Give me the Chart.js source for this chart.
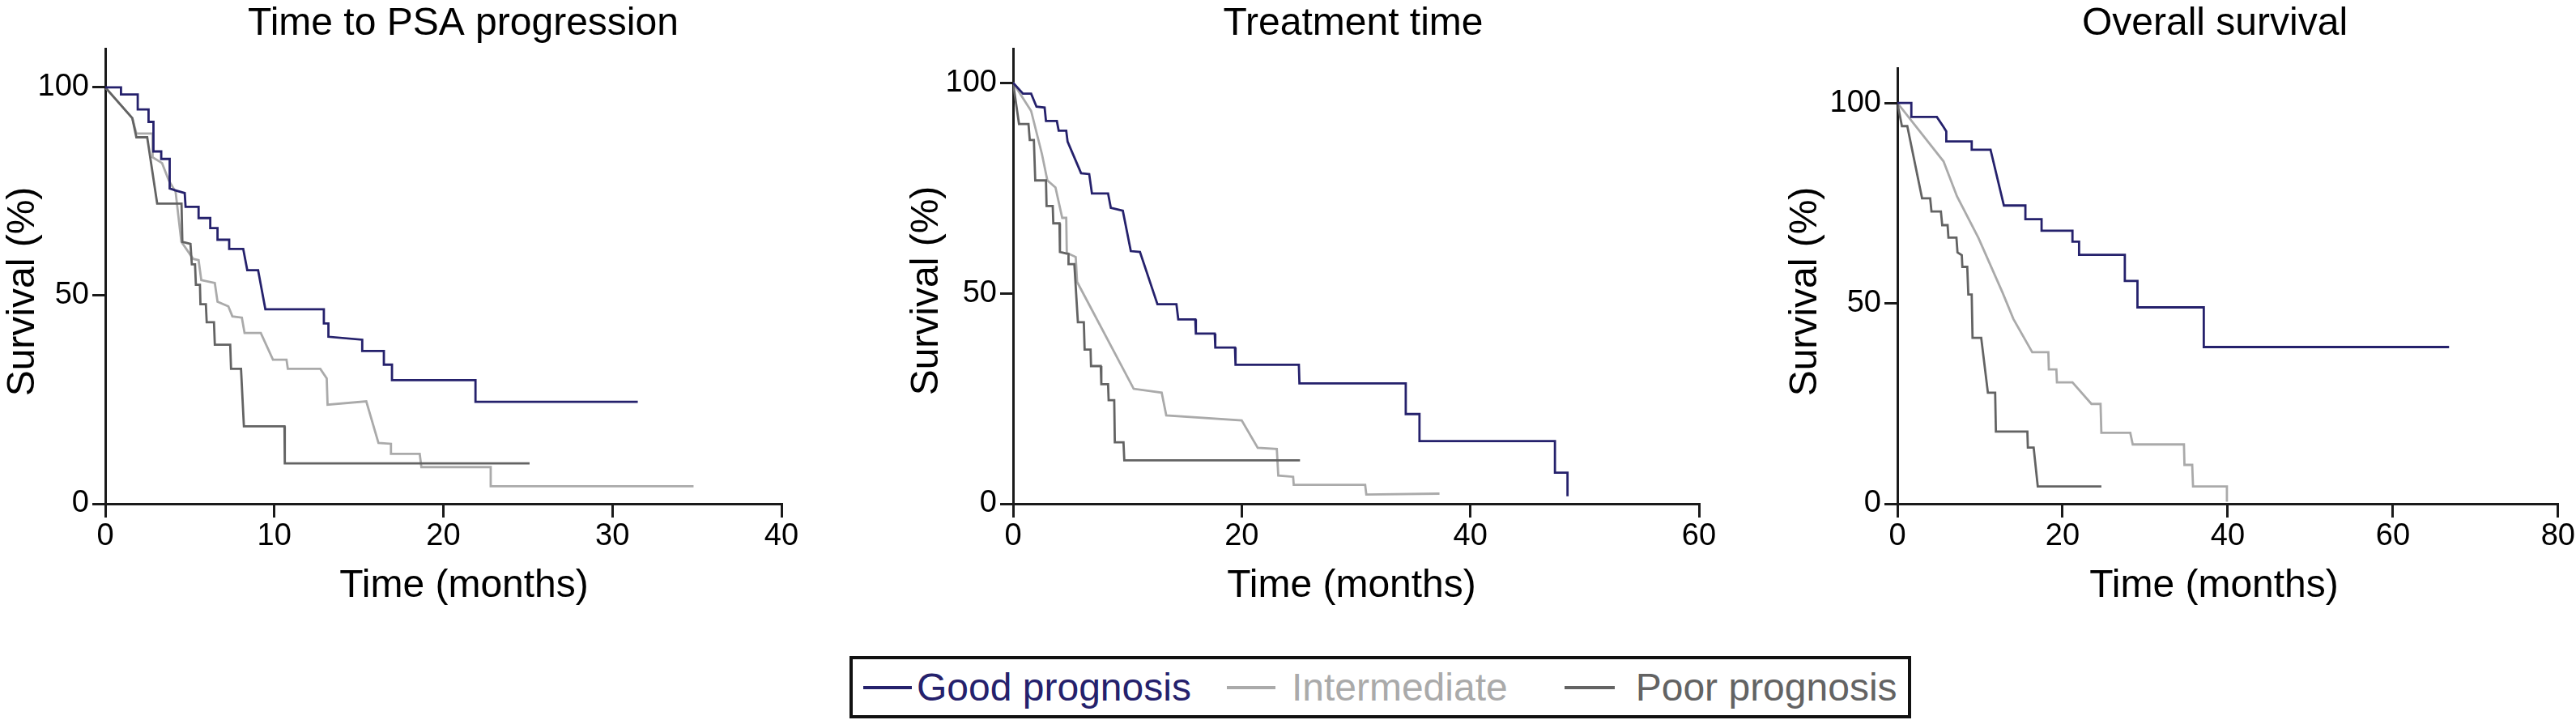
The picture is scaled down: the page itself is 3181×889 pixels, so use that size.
<!DOCTYPE html>
<html>
<head>
<meta charset="utf-8">
<title>Survival by prognosis group</title>
<script src="https://cdn.jsdelivr.net/npm/chart.js@4.4.1/dist/chart.umd.min.js"></script>
<style>
  html, body { margin: 0; padding: 0; background: #fff; }
  body { position: relative; width: 3181px; height: 889px; overflow: hidden;
         font-family: "Liberation Sans", Arial, sans-serif; }
  canvas { position: absolute; top: 0; }
  #legend { position: absolute; left: 1049px; top: 810px; width: 1311px; height: 77px;
            box-sizing: border-box; border: 4px solid #111; display: flex; align-items: center;
            font-size: 48px; line-height: 69px; white-space: nowrap; }
  #legend .item { display: flex; align-items: center; }
  #legend .swatch { display: inline-block; height: 4px; }
</style>
</head>
<body>
<canvas id="psaChart" width="995" height="749" style="left:0px"></canvas>
<canvas id="treatChart" width="1012" height="749" style="left:1116px"></canvas>
<canvas id="osChart" width="980" height="749" style="left:2201px"></canvas>
<div id="legend"></div>
<script>
// series names / colours
var seriesNames = ['Good prognosis', 'Intermediate', 'Poor prognosis'];
var seriesColors = ['#25216c', '#aaaaaa', '#636363'];

// ---- Time to PSA progression (months, survival %) ----
var psaGoodT = [0, 0.93, 0.93, 1.92, 1.92, 2.56, 2.56, 2.85,
                2.85, 3.31, 3.31, 3.81, 3.81, 4.2, 4.7, 4.75,
                5.52, 5.52, 6.21, 6.21, 6.64, 6.64, 7.33, 7.33,
                8.16, 8.4, 9.04, 9.47, 12.93, 12.93, 13.2, 13.2,
                15.2, 15.2, 16.48, 16.48, 16.96, 16.96, 21.9, 21.9,
                31.5];
var psaGoodS = [100, 100, 98.3, 98.3, 94.7, 94.7, 91.7, 91.7,
                84.6, 84.6, 82.8, 82.8, 75.7, 75.2, 74.6, 71.3,
                71.3, 68.6, 68.6, 66.2, 66.2, 63.4, 63.4, 61.2,
                61.2, 56.1, 56.1, 46.7, 46.7, 43.3, 43.3, 40.1,
                39.4, 36.7, 36.7, 33.4, 33.4, 29.7, 29.7, 24.5,
                24.5];
var psaInterT = [0, 1.6, 1.84, 2.8, 2.8, 3.36, 3.76, 4.16,
                 4.5, 5.2, 5.52, 5.68, 6.48, 6.64, 7.28, 7.52,
                 8.08, 8.24, 9.2, 9.92, 10.72, 10.8, 12.72, 13.1,
                 13.15, 15.44, 16.16, 16.9, 16.9, 18.6, 18.7, 22.8,
                 22.8, 34.8];
var psaInterS = [100, 92.6, 88.9, 88.9, 83.2, 81.8, 77.6, 74.9,
                 62.9, 58.8, 58.5, 53.7, 53, 48.5, 47.4, 45,
                 44.7, 41, 41, 34.6, 34.6, 32.4, 32.4, 30.1,
                 23.8, 24.6, 14.6, 14.4, 12, 12, 8.8, 8.8,
                 4.2, 4.2];
var psaPoorT = [0, 1.6, 1.84, 2.48, 3.07, 4.51, 4.56, 5.04,
                5.12, 5.31, 5.36, 5.6, 5.63, 5.95, 6, 6.43,
                6.48, 7.39, 7.44, 8.03, 8.2, 10.6, 10.62, 25.1];
var psaPoorS = [100, 92.6, 88, 88, 72.1, 72.1, 62.9, 62.4,
                57.5, 57.5, 52.6, 52.6, 47.9, 47.9, 43.6, 43.6,
                38.2, 38.2, 32.4, 32.4, 18.6, 18.6, 9.7, 9.7];

// ---- Treatment time ----
var trtGoodT = [0, 0.87, 1.58, 2.05, 2.76, 2.88, 3.83, 3.99,
                4.65, 4.77, 5.95, 6.66, 6.9, 8.31, 8.55, 9.6,
                10.3, 11.1, 12.63, 14.29, 14.45, 15.94, 15.99, 17.64,
                17.69, 19.41, 19.46, 25, 25.05, 34.35, 34.35, 35.55,
                35.55, 47.4, 47.4, 48.5, 48.5];
var trtGoodS = [100, 97.4, 97.4, 94.3, 94.1, 90.9, 90.9, 88.6,
                88.6, 86, 78.5, 78.3, 73.7, 73.7, 70.3, 69.6,
                60, 59.8, 47.4, 47.4, 43.8, 43.8, 40.4, 40.4,
                37.1, 37.1, 33, 33, 28.6, 28.6, 21.3, 21.3,
                14.9, 14.9, 7.4, 7.4, 1.8];
var trtInterT = [0, 1.58, 2.53, 3, 3.71, 4.3, 4.65, 4.7,
                 5.48, 5.6, 10.55, 13, 13.4, 20, 21.4, 23.07,
                 23.2, 24.5, 24.55, 30.8, 30.9, 37.3];
var trtInterS = [100, 93.3, 83, 76.8, 75.1, 67.9, 67.9, 59.6,
                 58.6, 52.7, 27.3, 26.4, 21, 19.8, 13.3, 13,
                 6.7, 6.4, 4.5, 4.5, 2.2, 2.4];
var trtPoorT = [0, 0.52, 1.35, 1.46, 1.82, 1.94, 2.88, 2.93,
                3.47, 3.52, 4.06, 4.1, 4.85, 4.85, 5.36, 5.67,
                6.19, 6.26, 6.78, 6.82, 7.67, 7.72, 8.31, 8.36,
                8.85, 8.9, 9.66, 9.73, 25.1];
var trtPoorS = [100, 90.2, 90.2, 86.4, 86.4, 76.8, 76.8, 70.7,
                70.7, 66.6, 66.6, 59.8, 59.3, 56.9, 56.9, 43.1,
                43.1, 36.6, 36.6, 32.7, 32.7, 28.4, 28.4, 24.6,
                24.6, 14.6, 14.6, 10.3, 10.3];

// ---- Overall survival ----
var osGoodT = [0, 1.69, 1.69, 4.78, 5.59, 5.92, 5.92, 9,
               9, 11.28, 12.9, 15.5, 15.5, 17.46, 17.46, 21.2,
               21.2, 22, 22, 27.54, 27.54, 29.07, 29.07, 37.1,
               37.1, 66.8];
var osGoodS = [100, 100, 96.5, 96.5, 94, 92.9, 90.4, 90.4,
               88.3, 88.3, 74.4, 74.4, 71, 71, 68.1, 68.1,
               65.4, 65.4, 62.1, 62.1, 55.6, 55.6, 49, 49,
               39.1, 39.1];
var osInterT = [0, 5.59, 7.22, 9.82, 12.75, 14.05, 16.33, 18.28,
                18.34, 19.25, 19.32, 21.2, 23.5, 24.6, 24.7, 28.2,
                28.5, 34.7, 34.76, 35.7, 35.8, 39.9, 39.9];
var osInterS = [100, 85.4, 76.7, 66.3, 52.6, 46.1, 37.8, 37.8,
                33.5, 33.5, 30.3, 30.3, 24.9, 24.9, 17.7, 17.7,
                14.8, 14.8, 9.7, 9.7, 4.3, 4.3, 0.5];
var osPoorT = [0, 0.55, 1.2, 2.99, 3.97, 4.13, 5.27, 5.43,
               6.08, 6.18, 7.15, 7.28, 7.8, 7.87, 8.46, 8.59,
               9, 9.1, 10.15, 10.96, 11.84, 11.93, 15.74, 15.8,
               16.5, 17, 24.7];
var osPoorS = [100, 94.2, 94.2, 76.2, 76.2, 72.9, 72.9, 69.5,
               69.5, 66.4, 66.4, 62.7, 62, 59.1, 59.1, 52.2,
               52.2, 41.4, 41.4, 27.7, 27.7, 18, 18, 14,
               14, 4.3, 4.3];

// axis ranges and tick steps
var xMaxes = [40, 60, 80];
var xSteps = [10, 20, 20];
var yMaxes = [109.3, 108.1, 108.7];
var yStep = 50;

Chart.defaults.font.family = '"Liberation Sans", Arial, sans-serif';
var axisColor = '#1a1a1a';

function toPoints(t, s) {
  var pts = [];
  for (var i = 0; i < t.length; i++) {
    pts.push({x: t[i], y: s[i]});
  }
  return pts;
}

// panel heading + axis labels (the original ones are not centred on the plot)
var panelText = {
  id: 'panelText',
  afterDraw: function(chart, args, opts) {
    var ctx = chart.ctx;
    ctx.save();
    ctx.font = '48px "Liberation Sans", Arial, sans-serif';
    ctx.fillStyle = '#000';
    ctx.textAlign = 'center';
    ctx.textBaseline = 'alphabetic';
    ctx.fillText(opts.title, opts.titleX, 43);
    ctx.fillText('Time (months)', opts.xLabelX, 737);
    ctx.translate(42, opts.yLabelY);
    ctx.rotate(-Math.PI / 2);
    ctx.fillText('Survival (%)', 0, 0);
    ctx.restore();
  }
};

function kmChart(id, i, text, top, yWidth, padRight, good, inter, poor) {
  var ctx = document.getElementById(id).getContext('2d');
  return new Chart(ctx, {
    type: 'line',
    data: {
      datasets: [
        {label: seriesNames[0], data: good, borderColor: seriesColors[0], order: 0},
        {label: seriesNames[1], data: inter, borderColor: seriesColors[1], order: 2},
        {label: seriesNames[2], data: poor, borderColor: seriesColors[2], order: 1}
      ].map(function(d) {
        d.borderWidth = 2.8;
        d.pointRadius = 0;
        d.fill = false;
        d.tension = 0;
        d.borderCapStyle = 'butt';
        d.borderJoinStyle = 'miter';
        return d;
      })
    },
    options: {
      responsive: false,
      animation: false,
      devicePixelRatio: 1,
      events: [],
      layout: {padding: {top: top, right: padRight, left: 0, bottom: 0}},
      plugins: {
        legend: {display: false},
        tooltip: {enabled: false},
        panelText: text
      },
      scales: {
        x: {
          type: 'linear',
          min: 0,
          max: xMaxes[i],
          border: {display: true, color: axisColor, width: 3},
          grid: {drawOnChartArea: false, drawTicks: true, tickLength: 17, color: axisColor, lineWidth: 3},
          ticks: {stepSize: xSteps[i], padding: 1, color: '#000', font: {size: 38}, maxRotation: 0, autoSkip: false},
          afterFit: function(scale) { scale.height = 127; }
        },
        y: {
          type: 'linear',
          min: 0,
          max: yMaxes[i],
          border: {display: true, color: axisColor, width: 3},
          grid: {drawOnChartArea: false, drawTicks: true, tickLength: 16, color: axisColor, lineWidth: 3},
          ticks: {stepSize: yStep, includeBounds: false, padding: 4, color: '#000', font: {size: 38}},
          afterFit: function(scale) { scale.width = yWidth; }
        }
      }
    },
    plugins: [panelText]
  });
}

kmChart('psaChart', 0, {title: 'Time to PSA progression', titleX: 572, xLabelX: 573, yLabelY: 360}, 60, 130, 30,
  toPoints(psaGoodT, psaGoodS), toPoints(psaInterT, psaInterS), toPoints(psaPoorT, psaPoorS));
kmChart('treatChart', 1, {title: 'Treatment time', titleX: 555, xLabelX: 553, yLabelY: 359}, 60, 135, 30,
  toPoints(trtGoodT, trtGoodS), toPoints(trtInterT, trtInterS), toPoints(trtPoorT, trtPoorS));
kmChart('osChart', 2, {title: 'Overall survival', titleX: 534, xLabelX: 533, yLabelY: 360}, 84, 142, 18,
  toPoints(osGoodT, osGoodS), toPoints(osInterT, osInterS), toPoints(osPoorT, osPoorS));

// shared legend under the middle panel
var legendLead = [13, 44, 70];
var legendGap = [6, 20, 26];
var legendLine = [60, 60, 62];
var legend = document.getElementById('legend');
seriesNames.forEach(function(name, k) {
  var item = document.createElement('span');
  item.className = 'item';
  item.style.marginLeft = legendLead[k] + 'px';
  var sw = document.createElement('span');
  sw.className = 'swatch';
  sw.style.width = legendLine[k] + 'px';
  sw.style.background = seriesColors[k];
  sw.style.marginRight = legendGap[k] + 'px';
  var txt = document.createElement('span');
  txt.textContent = name;
  txt.style.color = seriesColors[k];
  item.appendChild(sw);
  item.appendChild(txt);
  legend.appendChild(item);
});
</script>
</body>
</html>
